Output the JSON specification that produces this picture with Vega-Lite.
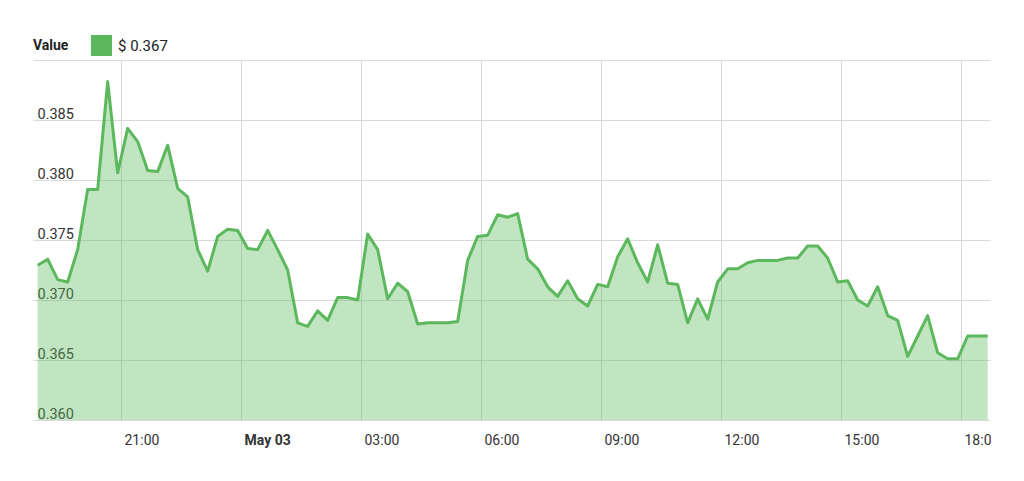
{
  "$schema": "https://vega.github.io/schema/vega-lite/v6.json",
  "width": 957,
  "height": 360,
  "autosize": {"type": "none"},
  "padding": {"left": 33, "top": 60, "right": 1, "bottom": 61},
  "background": "white",
  "config": {"view": {"stroke": null}, "font": "Roboto"},
  "data": {
    "values": [
      {"time": "2018-05-02T18:55:00", "value": 0.3729, "series": "$ 0.367"},
      {"time": "2018-05-02T19:10:00", "value": 0.3734, "series": "$ 0.367"},
      {"time": "2018-05-02T19:25:00", "value": 0.3717, "series": "$ 0.367"},
      {"time": "2018-05-02T19:40:00", "value": 0.3715, "series": "$ 0.367"},
      {"time": "2018-05-02T19:55:00", "value": 0.3742, "series": "$ 0.367"},
      {"time": "2018-05-02T20:10:00", "value": 0.3792, "series": "$ 0.367"},
      {"time": "2018-05-02T20:25:00", "value": 0.3792, "series": "$ 0.367"},
      {"time": "2018-05-02T20:40:00", "value": 0.3882, "series": "$ 0.367"},
      {"time": "2018-05-02T20:55:00", "value": 0.3806, "series": "$ 0.367"},
      {"time": "2018-05-02T21:10:00", "value": 0.3843, "series": "$ 0.367"},
      {"time": "2018-05-02T21:25:00", "value": 0.3832, "series": "$ 0.367"},
      {"time": "2018-05-02T21:40:00", "value": 0.3808, "series": "$ 0.367"},
      {"time": "2018-05-02T21:55:00", "value": 0.3807, "series": "$ 0.367"},
      {"time": "2018-05-02T22:10:00", "value": 0.3829, "series": "$ 0.367"},
      {"time": "2018-05-02T22:25:00", "value": 0.3793, "series": "$ 0.367"},
      {"time": "2018-05-02T22:40:00", "value": 0.3786, "series": "$ 0.367"},
      {"time": "2018-05-02T22:55:00", "value": 0.3742, "series": "$ 0.367"},
      {"time": "2018-05-02T23:10:00", "value": 0.3724, "series": "$ 0.367"},
      {"time": "2018-05-02T23:25:00", "value": 0.3753, "series": "$ 0.367"},
      {"time": "2018-05-02T23:40:00", "value": 0.3759, "series": "$ 0.367"},
      {"time": "2018-05-02T23:55:00", "value": 0.3758, "series": "$ 0.367"},
      {"time": "2018-05-03T00:10:00", "value": 0.3743, "series": "$ 0.367"},
      {"time": "2018-05-03T00:25:00", "value": 0.3742, "series": "$ 0.367"},
      {"time": "2018-05-03T00:40:00", "value": 0.3758, "series": "$ 0.367"},
      {"time": "2018-05-03T00:55:00", "value": 0.3742, "series": "$ 0.367"},
      {"time": "2018-05-03T01:10:00", "value": 0.3725, "series": "$ 0.367"},
      {"time": "2018-05-03T01:25:00", "value": 0.3681, "series": "$ 0.367"},
      {"time": "2018-05-03T01:40:00", "value": 0.3678, "series": "$ 0.367"},
      {"time": "2018-05-03T01:55:00", "value": 0.3691, "series": "$ 0.367"},
      {"time": "2018-05-03T02:10:00", "value": 0.3683, "series": "$ 0.367"},
      {"time": "2018-05-03T02:25:00", "value": 0.3702, "series": "$ 0.367"},
      {"time": "2018-05-03T02:40:00", "value": 0.3702, "series": "$ 0.367"},
      {"time": "2018-05-03T02:55:00", "value": 0.3700, "series": "$ 0.367"},
      {"time": "2018-05-03T03:10:00", "value": 0.3755, "series": "$ 0.367"},
      {"time": "2018-05-03T03:25:00", "value": 0.3742, "series": "$ 0.367"},
      {"time": "2018-05-03T03:40:00", "value": 0.3701, "series": "$ 0.367"},
      {"time": "2018-05-03T03:55:00", "value": 0.3714, "series": "$ 0.367"},
      {"time": "2018-05-03T04:10:00", "value": 0.3707, "series": "$ 0.367"},
      {"time": "2018-05-03T04:25:00", "value": 0.3680, "series": "$ 0.367"},
      {"time": "2018-05-03T04:40:00", "value": 0.3681, "series": "$ 0.367"},
      {"time": "2018-05-03T04:55:00", "value": 0.3681, "series": "$ 0.367"},
      {"time": "2018-05-03T05:10:00", "value": 0.3681, "series": "$ 0.367"},
      {"time": "2018-05-03T05:25:00", "value": 0.3682, "series": "$ 0.367"},
      {"time": "2018-05-03T05:40:00", "value": 0.3733, "series": "$ 0.367"},
      {"time": "2018-05-03T05:55:00", "value": 0.3753, "series": "$ 0.367"},
      {"time": "2018-05-03T06:10:00", "value": 0.3754, "series": "$ 0.367"},
      {"time": "2018-05-03T06:25:00", "value": 0.3771, "series": "$ 0.367"},
      {"time": "2018-05-03T06:40:00", "value": 0.3769, "series": "$ 0.367"},
      {"time": "2018-05-03T06:55:00", "value": 0.3772, "series": "$ 0.367"},
      {"time": "2018-05-03T07:10:00", "value": 0.3734, "series": "$ 0.367"},
      {"time": "2018-05-03T07:25:00", "value": 0.3726, "series": "$ 0.367"},
      {"time": "2018-05-03T07:40:00", "value": 0.3711, "series": "$ 0.367"},
      {"time": "2018-05-03T07:55:00", "value": 0.3703, "series": "$ 0.367"},
      {"time": "2018-05-03T08:10:00", "value": 0.3716, "series": "$ 0.367"},
      {"time": "2018-05-03T08:25:00", "value": 0.3701, "series": "$ 0.367"},
      {"time": "2018-05-03T08:40:00", "value": 0.3695, "series": "$ 0.367"},
      {"time": "2018-05-03T08:55:00", "value": 0.3713, "series": "$ 0.367"},
      {"time": "2018-05-03T09:10:00", "value": 0.3711, "series": "$ 0.367"},
      {"time": "2018-05-03T09:25:00", "value": 0.3736, "series": "$ 0.367"},
      {"time": "2018-05-03T09:40:00", "value": 0.3751, "series": "$ 0.367"},
      {"time": "2018-05-03T09:55:00", "value": 0.3731, "series": "$ 0.367"},
      {"time": "2018-05-03T10:10:00", "value": 0.3715, "series": "$ 0.367"},
      {"time": "2018-05-03T10:25:00", "value": 0.3746, "series": "$ 0.367"},
      {"time": "2018-05-03T10:40:00", "value": 0.3714, "series": "$ 0.367"},
      {"time": "2018-05-03T10:55:00", "value": 0.3713, "series": "$ 0.367"},
      {"time": "2018-05-03T11:10:00", "value": 0.3681, "series": "$ 0.367"},
      {"time": "2018-05-03T11:25:00", "value": 0.3701, "series": "$ 0.367"},
      {"time": "2018-05-03T11:40:00", "value": 0.3684, "series": "$ 0.367"},
      {"time": "2018-05-03T11:55:00", "value": 0.3715, "series": "$ 0.367"},
      {"time": "2018-05-03T12:10:00", "value": 0.3726, "series": "$ 0.367"},
      {"time": "2018-05-03T12:25:00", "value": 0.3726, "series": "$ 0.367"},
      {"time": "2018-05-03T12:40:00", "value": 0.3731, "series": "$ 0.367"},
      {"time": "2018-05-03T12:55:00", "value": 0.3733, "series": "$ 0.367"},
      {"time": "2018-05-03T13:10:00", "value": 0.3733, "series": "$ 0.367"},
      {"time": "2018-05-03T13:25:00", "value": 0.3733, "series": "$ 0.367"},
      {"time": "2018-05-03T13:40:00", "value": 0.3735, "series": "$ 0.367"},
      {"time": "2018-05-03T13:55:00", "value": 0.3735, "series": "$ 0.367"},
      {"time": "2018-05-03T14:10:00", "value": 0.3745, "series": "$ 0.367"},
      {"time": "2018-05-03T14:25:00", "value": 0.3745, "series": "$ 0.367"},
      {"time": "2018-05-03T14:40:00", "value": 0.3735, "series": "$ 0.367"},
      {"time": "2018-05-03T14:55:00", "value": 0.3715, "series": "$ 0.367"},
      {"time": "2018-05-03T15:10:00", "value": 0.3716, "series": "$ 0.367"},
      {"time": "2018-05-03T15:25:00", "value": 0.3700, "series": "$ 0.367"},
      {"time": "2018-05-03T15:40:00", "value": 0.3695, "series": "$ 0.367"},
      {"time": "2018-05-03T15:55:00", "value": 0.3711, "series": "$ 0.367"},
      {"time": "2018-05-03T16:10:00", "value": 0.3687, "series": "$ 0.367"},
      {"time": "2018-05-03T16:25:00", "value": 0.3683, "series": "$ 0.367"},
      {"time": "2018-05-03T16:40:00", "value": 0.3653, "series": "$ 0.367"},
      {"time": "2018-05-03T16:55:00", "value": 0.3670, "series": "$ 0.367"},
      {"time": "2018-05-03T17:10:00", "value": 0.3687, "series": "$ 0.367"},
      {"time": "2018-05-03T17:25:00", "value": 0.3656, "series": "$ 0.367"},
      {"time": "2018-05-03T17:40:00", "value": 0.3651, "series": "$ 0.367"},
      {"time": "2018-05-03T17:55:00", "value": 0.3651, "series": "$ 0.367"},
      {"time": "2018-05-03T18:10:00", "value": 0.3670, "series": "$ 0.367"},
      {"time": "2018-05-03T18:25:00", "value": 0.3670, "series": "$ 0.367"},
      {"time": "2018-05-03T18:40:00", "value": 0.3670, "series": "$ 0.367"}
    ]
  },
  "mark": {
    "type": "area",
    "clip": true,
    "fillOpacity": 0.38,
    "line": {"strokeWidth": 3, "strokeJoin": "round"}
  },
  "encoding": {
    "x": {
      "field": "time",
      "type": "temporal",
      "scale": {
        "domain": [
          {"year": 2018, "month": 5, "date": 2, "hours": 18, "minutes": 48},
          {"year": 2018, "month": 5, "date": 3, "hours": 18, "minutes": 43, "seconds": 30}
        ],
        "nice": false
      },
      "axis": {
        "title": null,
        "values": [
          {"year": 2018, "month": 5, "date": 2, "hours": 21},
          {"year": 2018, "month": 5, "date": 3, "hours": 0},
          {"year": 2018, "month": 5, "date": 3, "hours": 3},
          {"year": 2018, "month": 5, "date": 3, "hours": 6},
          {"year": 2018, "month": 5, "date": 3, "hours": 9},
          {"year": 2018, "month": 5, "date": 3, "hours": 12},
          {"year": 2018, "month": 5, "date": 3, "hours": 15},
          {"year": 2018, "month": 5, "date": 3, "hours": 18}
        ],
        "labelExpr": "hours(datum.value) == 0 ? timeFormat(datum.value, '%b %d') : timeFormat(datum.value, '%H:%M')",
        "labelFontWeight": {"condition": {"test": "hours(datum.value) == 0", "value": "bold"}, "value": "normal"},
        "labelAlign": "left",
        "labelOffset": 3,
        "labelPadding": 13,
        "labelFlush": false,
        "labelOverlap": false,
        "ticks": false,
        "domain": false,
        "gridColor": "#d9d9d9",
        "labelFontSize": 14,
        "labelColor": "#333333"
      }
    },
    "y": {
      "field": "value",
      "type": "quantitative",
      "scale": {"domain": [0.36, 0.39], "nice": false, "zero": false},
      "axis": {
        "title": null,
        "values": [0.36, 0.365, 0.37, 0.375, 0.38, 0.385, 0.39],
        "labelExpr": "datum.value > 0.3895 ? '' : format(datum.value, '.3f')",
        "labelAlign": "left",
        "labelBaseline": "alphabetic",
        "labelPadding": -4,
        "labelOffset": -2,
        "ticks": false,
        "domain": false,
        "gridColor": "#d9d9d9",
        "labelFontSize": 14.5,
        "labelColor": "#333333"
      }
    },
    "color": {
      "field": "series",
      "type": "nominal",
      "scale": {"range": ["#5cb85c"]},
      "legend": {
        "title": "Value",
        "orient": "none",
        "legendX": 0,
        "legendY": -25,
        "direction": "horizontal",
        "titleOrient": "left",
        "titleFontWeight": "bold",
        "titleFontSize": 14,
        "titleColor": "#222222",
        "titlePadding": 22,
        "symbolType": "square",
        "symbolSize": 441,
        "symbolOpacity": 1,
        "symbolStrokeWidth": 0,
        "labelFontSize": 15,
        "labelColor": "#222222",
        "labelOffset": 6
      }
    }
  }
}
